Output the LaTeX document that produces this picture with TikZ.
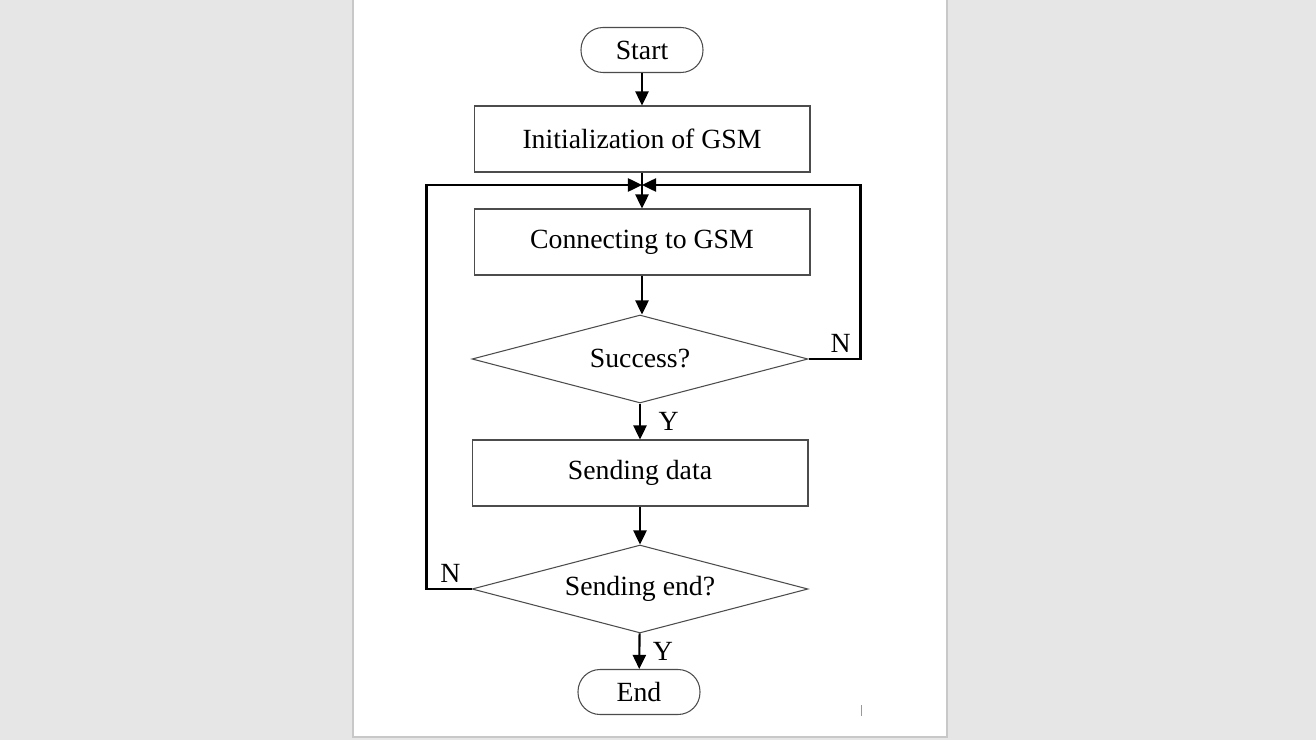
\documentclass[tikz,border=0pt]{standalone}
\usepackage{fontspec}
\setmainfont{Liberation Serif}
\usetikzlibrary{arrows.meta,shapes.geometric,positioning}

\definecolor{viewergray}{RGB}{230,230,230}
\definecolor{pageedge}{RGB}{200,200,200}

\begin{document}
\begin{tikzpicture}[
  x=0.02cm, y=-0.02cm, % one unit = one pixel of the screenshot
  every node/.style={font=\fontsize{15.8}{18}\selectfont},
  box/.style={draw=black!70, line width=0.6pt, minimum width=6.72cm, minimum height=1.32cm},
  terminal/.style={draw=black!70, line width=0.6pt, rounded corners=0.44cm, minimum width=2.44cm, minimum height=0.9cm},
  decision/.style={diamond, draw=black!70, line width=0.6pt, aspect=3.82, inner sep=0pt, minimum width=6.72cm, minimum height=1.76cm},
  arr/.style={line width=1.2pt, -{Triangle[length=8pt, width=7.5pt]}},
  lbl/.style={inner sep=1pt}
  ]
  % viewer background and page
  \fill[viewergray] (0,0) rectangle (1316,740);
  \useasboundingbox (0,0) rectangle (1316,740);
  \fill[white] (353,0) rectangle (947,737);
  \draw[pageedge, line width=0.6pt] (353,0) -- (353,737) -- (947,737) -- (947,0);

  % steps
  \node[terminal] (start) at (642,50) {Start};
  \node[box] (init) at (642,139) {Initialization of GSM};
  \coordinate (join) at (642,185);
  \node[box] (conn) at (642,242) {Connecting to GSM};
  \node[decision] (succ) at (640,359) {Success?};
  \node[box] (data) at (640,473) {Sending data};
  \node[decision] (send) at (640,589) {Sending end?};
  \node[terminal] (end) at (639,692) {End};

  % flow
  \draw[arr] (start) -- (init);
  \draw[line width=1.2pt] (init.south) -- (join);
  \draw[arr] (join) -- (conn);
  \draw[arr] (conn.south) -- (conn.south |- succ.north);
  \draw[arr] (succ) -- node[lbl, right=9pt] {Y} (data);
  \draw[arr] (data) -- (send);
  \draw[arr] (send) -- node[lbl, right=6pt] {Y} (end);
  \draw[arr] (succ.east) -- node[lbl, above=2pt, pos=0.62] {N} ++(52,0) |- (join);
  \draw[arr] (send.west) -- node[lbl, above=2pt, pos=0.47] {N} ++(-45,0) |- (join);

  % stray mark on the page
  \draw[black!40, line width=0.5pt] (861,705) -- (861,716);
\end{tikzpicture}
\end{document}
